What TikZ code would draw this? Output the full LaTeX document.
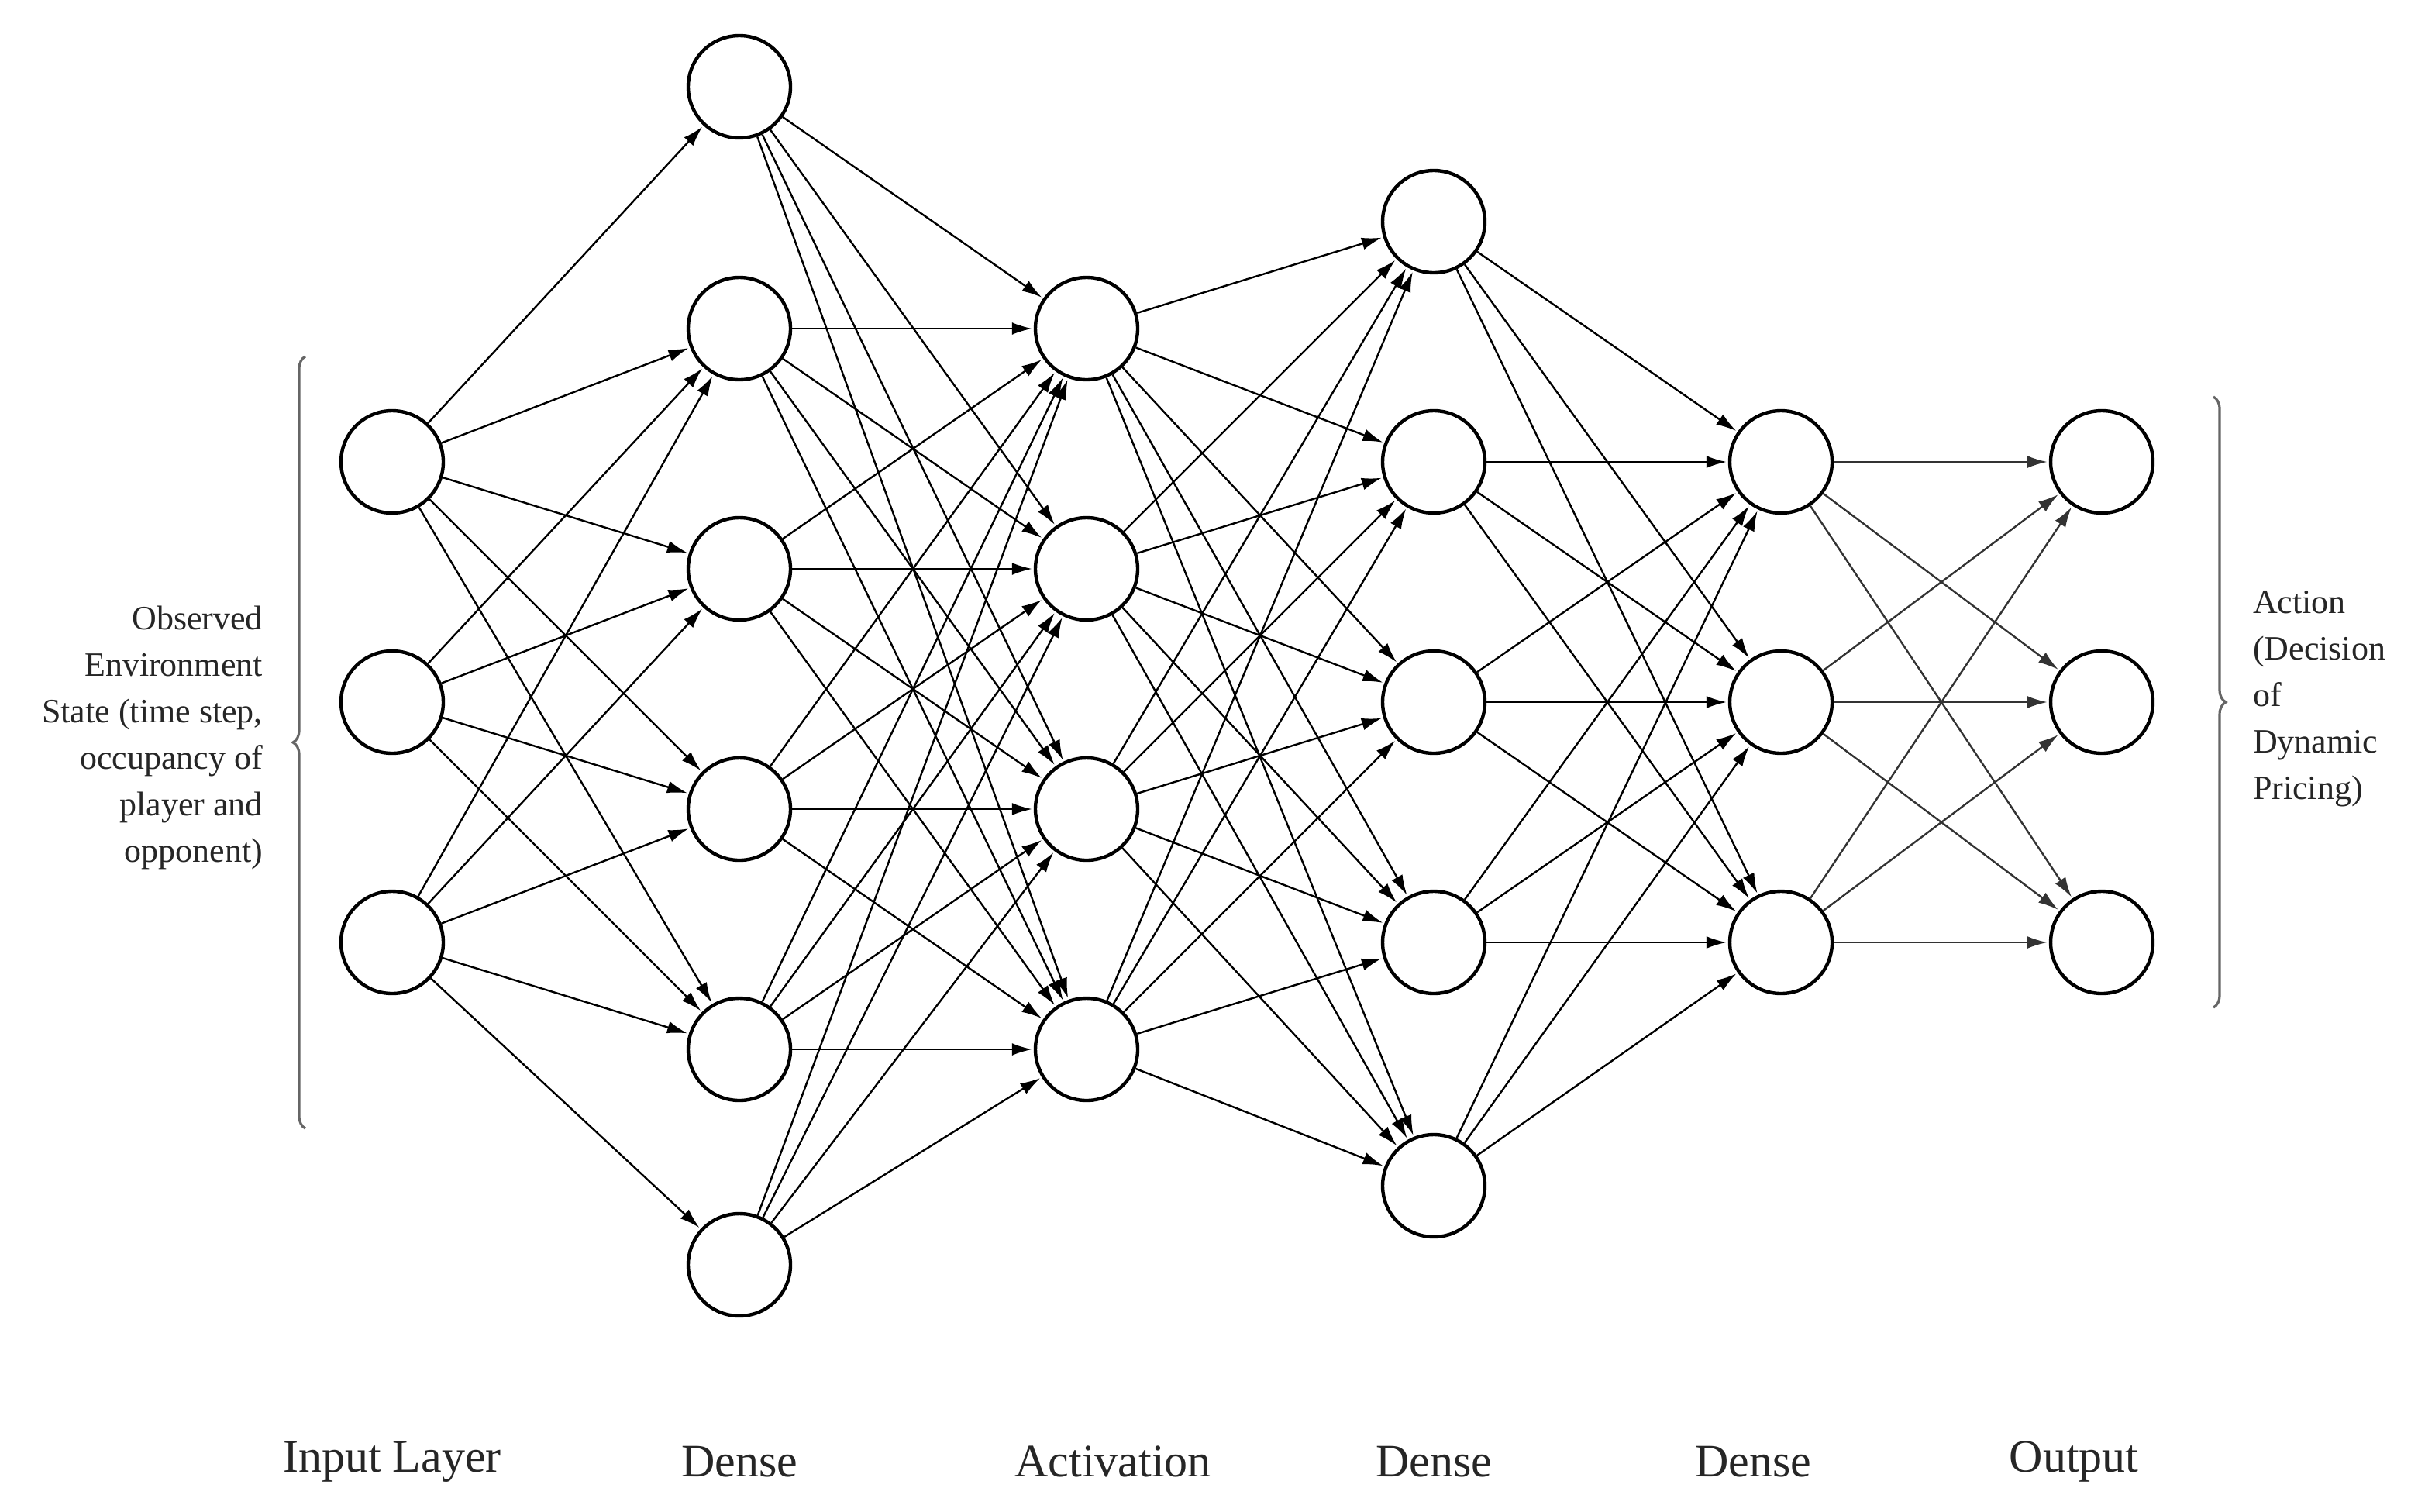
\documentclass[tikz,border=0pt]{standalone}
\usepackage{fontspec}
\setmainfont{Liberation Serif}
\usetikzlibrary{arrows.meta,decorations.pathreplacing}
\begin{document}
\begin{tikzpicture}[x=1pt,y=-1pt,
  neuron/.style={circle,draw,line width=2.2pt,minimum size=66pt,inner sep=0pt},
  edge/.style={-{Latex[length=13pt,width=8pt]},line width=1.2pt,shorten >=1pt},
  gedge/.style={edge,draw=black!80},
  lab/.style={font=\fontsize{30}{36}\selectfont,text=black!85},
  side/.style={font=\fontsize{22}{30}\selectfont,text=black!85}]
\useasboundingbox (0,0) rectangle (1560,975);
\foreach \i/\y in {1/298,2/453,3/608} \node[neuron] (a\i) at (253,\y) {};
\foreach \i/\y in {1/56,2/212,3/367,4/522,5/677,6/816} \node[neuron] (b\i) at (477,\y) {};
\foreach \i/\y in {1/212,2/367,3/522,4/677} \node[neuron] (c\i) at (701,\y) {};
\foreach \i/\y in {1/143,2/298,3/453,4/608,5/765} \node[neuron] (d\i) at (925,\y) {};
\foreach \i/\y in {1/298,2/453,3/608} \node[neuron] (e\i) at (1149,\y) {};
\foreach \i/\y in {1/298,2/453,3/608} \node[neuron] (f\i) at (1356,\y) {};
\foreach \j in {1,...,5} \draw[edge] (a1) -- (b\j);
\foreach \j in {2,...,5} \draw[edge] (a2) -- (b\j);
\foreach \j in {2,...,6} \draw[edge] (a3) -- (b\j);
\foreach \i in {1,...,6} \foreach \j in {1,...,4} \draw[edge] (b\i) -- (c\j);
\foreach \i in {1,...,4} \foreach \j in {1,...,5} \draw[edge] (c\i) -- (d\j);
\foreach \i in {1,...,5} \foreach \j in {1,...,3} \draw[edge] (d\i) -- (e\j);
\foreach \i in {1,...,3} \foreach \j in {1,...,3} \draw[gedge] (e\i) -- (f\j);
\coordinate (lb1) at (197,728); \coordinate (lb2) at (197,230);
\draw[decorate,decoration={brace,amplitude=8pt},line width=1.6pt,draw=black!60] (lb1) -- (lb2);
\coordinate (rb1) at (1428,256); \coordinate (rb2) at (1428,650);
\draw[decorate,decoration={brace,amplitude=8pt},line width=1.6pt,draw=black!60] (rb1) -- (rb2);
\node[side,align=right,anchor=east] (lt) at (173,476) {Observed\\Environment\\State (time step,\\occupancy of\\player and\\opponent)};
\node[side,align=left,anchor=west] (rt) at (1450,451) {Action\\(Decision\\of\\Dynamic\\Pricing)};
\node[lab] (l1) at (253,943) {Input Layer};
\node[lab] (l2) at (477,943) {Dense};
\node[lab] (l3) at (718,943) {Activation};
\node[lab] (l4) at (925,943) {Dense};
\node[lab] (l5) at (1131,943) {Dense};
\node[lab] (l6) at (1338,943) {Output};
\end{tikzpicture}
\end{document}
